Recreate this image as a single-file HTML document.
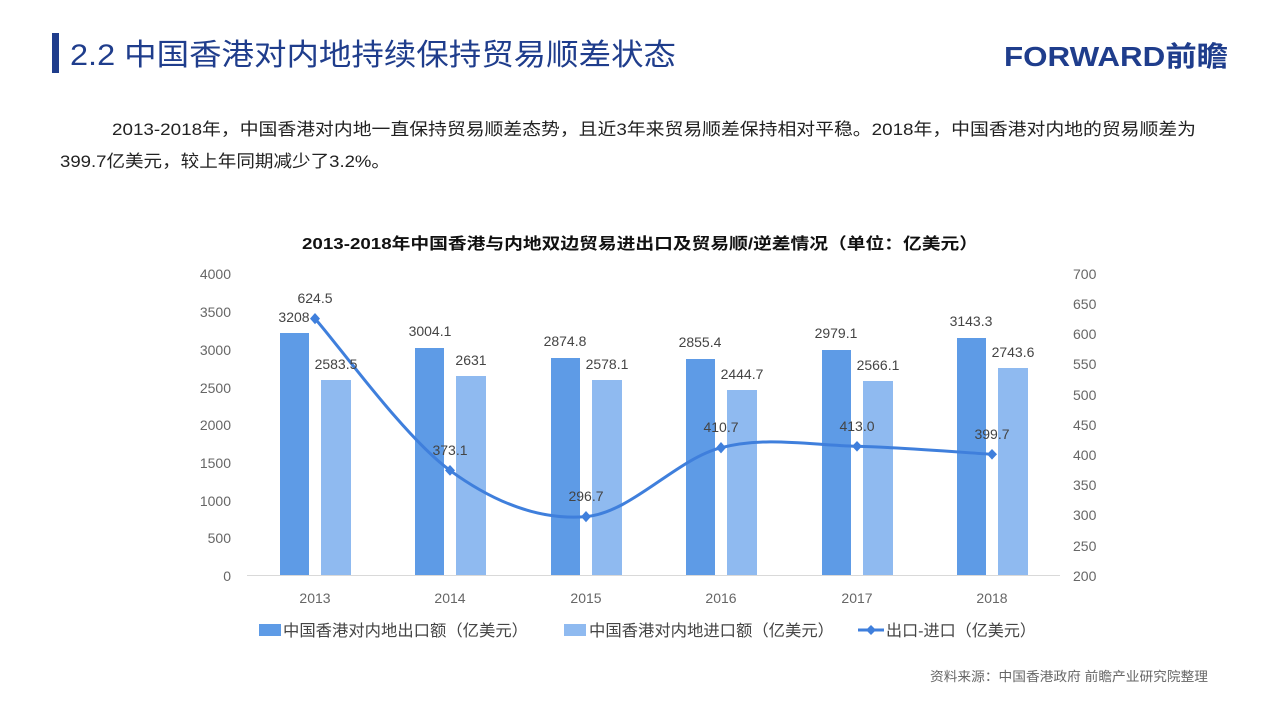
<!DOCTYPE html>
<html><head><meta charset="utf-8"><style>
body{margin:0;width:1280px;height:705px;background:#fff;overflow:hidden;font-family:"Liberation Sans","Noto Sans CJK SC",sans-serif;}
</style></head><body>
<svg width="1280" height="705" xmlns="http://www.w3.org/2000/svg" font-family="Liberation Sans, Noto Sans CJK SC, sans-serif">
<rect x="52" y="33" width="7" height="40" fill="#1f3d8c"/>
<text x="70" y="65" font-size="30" fill="#1f3d8c" textLength="606" lengthAdjust="spacingAndGlyphs">2.2 中国香港对内地持续保持贸易顺差状态</text>
<text x="1004" y="66" font-size="28" font-weight="bold" fill="#1f3d8c" textLength="224" lengthAdjust="spacingAndGlyphs">FORWARD前瞻</text>
<text x="112" y="135" font-size="17" fill="#222" textLength="1084" lengthAdjust="spacingAndGlyphs">2013-2018年，中国香港对内地一直保持贸易顺差态势，且近3年来贸易顺差保持相对平稳。2018年，中国香港对内地的贸易顺差为</text>
<text x="60" y="167" font-size="17" fill="#222" textLength="330" lengthAdjust="spacingAndGlyphs">399.7亿美元，较上年同期减少了3.2%。</text>
<text x="640" y="249" font-size="16" font-weight="bold" text-anchor="middle" fill="#111" textLength="676" lengthAdjust="spacingAndGlyphs">2013-2018年中国香港与内地双边贸易进出口及贸易顺/逆差情况（单位：亿美元）</text>
<g font-size="14" fill="#666" text-anchor="end">
<text x="231" y="279">4000</text><text x="231" y="317">3500</text><text x="231" y="355">3000</text><text x="231" y="393">2500</text><text x="231" y="430">2000</text><text x="231" y="468">1500</text><text x="231" y="506">1000</text><text x="231" y="543">500</text><text x="231" y="581">0</text>
</g>
<g font-size="14" fill="#666">
<text x="1073" y="279">700</text><text x="1073" y="309">650</text><text x="1073" y="339">600</text><text x="1073" y="369">550</text><text x="1073" y="400">500</text><text x="1073" y="430">450</text><text x="1073" y="460">400</text><text x="1073" y="490">350</text><text x="1073" y="520">300</text><text x="1073" y="551">250</text><text x="1073" y="581">200</text>
</g>
<g fill="#5e9be6">
<rect x="280" y="333" width="29" height="242"/><rect x="415" y="348" width="29" height="227"/><rect x="551" y="358" width="29" height="217"/><rect x="686" y="359" width="29" height="216"/><rect x="822" y="350" width="29" height="225"/><rect x="957" y="338" width="29" height="237"/>
</g>
<g fill="#8fbaf0">
<rect x="321" y="380" width="30" height="195"/><rect x="456" y="376" width="30" height="199"/><rect x="592" y="380" width="30" height="195"/><rect x="727" y="390" width="30" height="185"/><rect x="863" y="381" width="30" height="194"/><rect x="998" y="368" width="30" height="207"/>
</g>
<line x1="247" y1="575.5" x2="1060" y2="575.5" stroke="#d9d9d9"/>
<path d="M315,318.6 C337.5,343.9 404.8,437.4 450,470.4 C495.2,503.4 540.8,520.4 586,516.6 C631.2,512.8 675.8,459.4 721,447.7 C766.2,436 811.8,445.2 857,446.3 C902.2,447.4 969.5,453 992,454.3" fill="none" stroke="#3f7fdc" stroke-width="3"/>
<g fill="#3f7fdc">
<path d="M315,313 l5,5.6 -5,5.6 -5,-5.6z"/><path d="M450,465 l5,5.4 -5,5.4 -5,-5.4z"/><path d="M586,511 l5,5.6 -5,5.6 -5,-5.6z"/><path d="M721,442 l5,5.7 -5,5.7 -5,-5.7z"/><path d="M857,441 l5,5.3 -5,5.3 -5,-5.3z"/><path d="M992,449 l5,5.3 -5,5.3 -5,-5.3z"/>
</g>
<g font-size="14" fill="#444" text-anchor="middle">
<text x="294" y="322">3208</text><text x="336" y="369">2583.5</text>
<text x="430" y="336">3004.1</text><text x="471" y="365">2631</text>
<text x="565" y="346">2874.8</text><text x="607" y="369">2578.1</text>
<text x="700" y="347">2855.4</text><text x="742" y="379">2444.7</text>
<text x="836" y="338">2979.1</text><text x="878" y="370">2566.1</text>
<text x="971" y="326">3143.3</text><text x="1013" y="357">2743.6</text>
<text x="315" y="303">624.5</text><text x="450" y="455">373.1</text><text x="586" y="501">296.7</text><text x="721" y="432">410.7</text><text x="857" y="431">413.0</text><text x="992" y="439">399.7</text>
</g>
<g font-size="14" fill="#666" text-anchor="middle">
<text x="315" y="603">2013</text><text x="450" y="603">2014</text><text x="586" y="603">2015</text><text x="721" y="603">2016</text><text x="857" y="603">2017</text><text x="992" y="603">2018</text>
</g>
<rect x="259" y="624" width="22" height="12" fill="#5e9be6"/>
<text x="283" y="636" font-size="16" fill="#444" textLength="245" lengthAdjust="spacingAndGlyphs">中国香港对内地出口额（亿美元）</text>
<rect x="564" y="624" width="22" height="12" fill="#8fbaf0"/>
<text x="589" y="636" font-size="16" fill="#444" textLength="245" lengthAdjust="spacingAndGlyphs">中国香港对内地进口额（亿美元）</text>
<line x1="858" y1="630" x2="884" y2="630" stroke="#3f7fdc" stroke-width="3"/>
<path d="M871,625 l5,5 -5,5 -5,-5z" fill="#3f7fdc"/>
<text x="886" y="636" font-size="16" fill="#444" textLength="150" lengthAdjust="spacingAndGlyphs">出口-进口（亿美元）</text>
<text x="1208" y="681" font-size="13" fill="#666" text-anchor="end" textLength="278" lengthAdjust="spacingAndGlyphs">资料来源：中国香港政府  前瞻产业研究院整理</text>
</svg>
</body></html>
